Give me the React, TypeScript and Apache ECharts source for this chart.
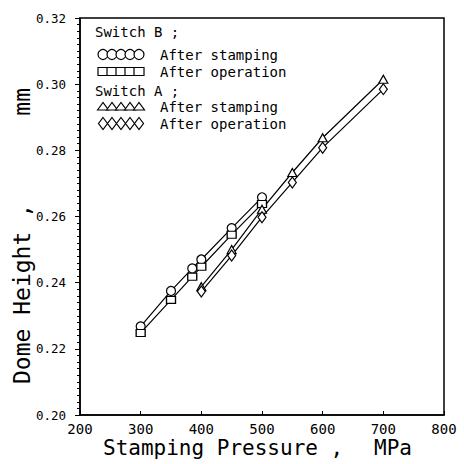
import React, { useEffect, useRef } from "react";
import * as echarts from "echarts";

const pressureB = [300, 350, 385, 400, 450, 500];
const bStamping = [0.2268, 0.2375, 0.2443, 0.247, 0.2565, 0.2658];
const bOperation = [0.2248, 0.2348, 0.2418, 0.2448, 0.2545, 0.2638];
const pressureA = [400, 450, 500, 550, 600, 700];
const aStamping = [0.2388, 0.25, 0.2622, 0.2733, 0.2838, 0.3015];
const aOperation = [0.2373, 0.2482, 0.2598, 0.2703, 0.2808, 0.2985];

const xTicks = { min: 200, max: 800, interval: 100 };
const yTicks = { min: 0.2, max: 0.32, interval: 0.02 };

const MONO = "DejaVu Sans Mono";

function pairs(xs: number[], ys: number[]) {
  return xs.map((x, i) => [x, ys[i]]);
}

function legendMarkers(kind: string, cy: number) {
  const out: any[] = [];
  const xs = [103, 112, 121, 130, 139];
  const style = { fill: "#fff", stroke: "#000", lineWidth: 1.2 };
  xs.forEach((cx) => {
    if (kind === "circle") {
      out.push({ type: "circle", shape: { cx, cy, r: 5 }, style });
    } else if (kind === "rect") {
      out.push({ type: "rect", shape: { x: cx - 5, y: cy - 4, width: 10, height: 8 }, style });
    } else if (kind === "triangle") {
      out.push({
        type: "polygon",
        shape: { points: [[cx - 5.5, cy + 3.5], [cx, cy - 4], [cx + 5.5, cy + 3.5]] },
        style,
      });
    } else {
      out.push({
        type: "polygon",
        shape: { points: [[cx, cy - 6], [cx + 4.5, cy], [cx, cy + 6], [cx - 4.5, cy]] },
        style,
      });
    }
  });
  return out;
}

function txt(text: string, x: number, y: number, size: number) {
  return {
    type: "text",
    x,
    y,
    style: {
      text,
      font: `${size}px "${MONO}"`,
      fill: "#000",
      align: "left",
      verticalAlign: "middle",
    },
  };
}

export default function App() {
  const ref = useRef<HTMLDivElement>(null);
  useEffect(() => {
    if (!ref.current) return;
    const chart = echarts.init(ref.current, undefined, { renderer: "svg" });
    const lineSeries = (name: string, symbol: string, data: number[][]) => ({
      name,
      type: "line",
      data,
      symbol,
      symbolSize: symbol === "diamond" ? [8, 11] : symbol === "triangle" ? [9, 8] : symbol === "rect" ? [9, 7] : 9,
      showAllSymbol: true,
      lineStyle: { color: "#000", width: 1.2 },
      itemStyle: { color: "#fff", borderColor: "#000", borderWidth: 1.2 },
      z: 3,
    });
    chart.setOption({
      animation: false,
      backgroundColor: "#fff",
      grid: {
        left: 80,
        right: 20,
        top: 18,
        bottom: 49,
        show: true,
        borderColor: "#000",
        borderWidth: 1.5,
      },
      xAxis: {
        type: "value",
        min: xTicks.min,
        max: xTicks.max,
        interval: xTicks.interval,
        axisLine: { show: true, lineStyle: { color: "#000", width: 1.5 } },
        axisTick: { show: true, inside: true, length: 4, lineStyle: { color: "#000" } },
        splitLine: { show: false },
        axisLabel: { color: "#000", fontFamily: MONO, fontSize: 14, margin: 7 },
      },
      yAxis: {
        type: "value",
        min: yTicks.min,
        max: yTicks.max,
        interval: yTicks.interval,
        axisLine: { show: true, lineStyle: { color: "#000", width: 1.5 } },
        axisTick: { show: true, length: 5, lineStyle: { color: "#000" } },
        minorTick: { show: true, splitNumber: 10, length: 3, lineStyle: { color: "#000" } },
        splitLine: { show: false },
        minorSplitLine: { show: false },
        axisLabel: {
          color: "#000",
          fontFamily: MONO,
          fontSize: 12.5,
          margin: 14,
          formatter: (v: number) => v.toFixed(2),
        },
      },
      series: [
        lineSeries("Switch B After stamping", "circle", pairs(pressureB, bStamping)),
        lineSeries("Switch B After operation", "rect", pairs(pressureB, bOperation)),
        lineSeries("Switch A After stamping", "triangle", pairs(pressureA, aStamping)),
        lineSeries("Switch A After operation", "diamond", pairs(pressureA, aOperation)),
      ],
      graphic: [
        txt("Switch B ;", 95, 32, 14),
        ...legendMarkers("circle", 54.5),
        txt("After stamping", 160, 54.5, 14),
        ...legendMarkers("rect", 71.5),
        txt("After operation", 160, 71.5, 14),
        txt("Switch A ;", 95, 90.5, 14),
        ...legendMarkers("triangle", 106.5),
        txt("After stamping", 160, 106.5, 14),
        ...legendMarkers("diamond", 123.5),
        txt("After operation", 160, 123.5, 14),
        {
          type: "text",
          x: 103,
          y: 448,
          style: {
            text: "Stamping Pressure ,",
            font: `21px "${MONO}"`,
            fill: "#000",
            align: "left",
            verticalAlign: "middle",
          },
        },
        {
          type: "text",
          x: 412,
          y: 448,
          style: {
            text: "MPa",
            font: `21px "${MONO}"`,
            fill: "#000",
            align: "right",
            verticalAlign: "middle",
          },
        },
        {
          type: "text",
          x: 22,
          y: 384,
          rotation: Math.PI / 2,
          style: {
            text: "Dome Height ,",
            font: `23px "${MONO}"`,
            fill: "#000",
            align: "left",
            verticalAlign: "middle",
          },
        },
        {
          type: "text",
          x: 22,
          y: 88,
          rotation: Math.PI / 2,
          style: {
            text: "mm",
            font: `23px "${MONO}"`,
            fill: "#000",
            align: "right",
            verticalAlign: "middle",
          },
        },
      ],
    });
    return () => chart.dispose();
  }, []);
  return <div ref={ref} style={{ width: 464, height: 464, position: "absolute", left: 0, top: 0 }} />;
}
